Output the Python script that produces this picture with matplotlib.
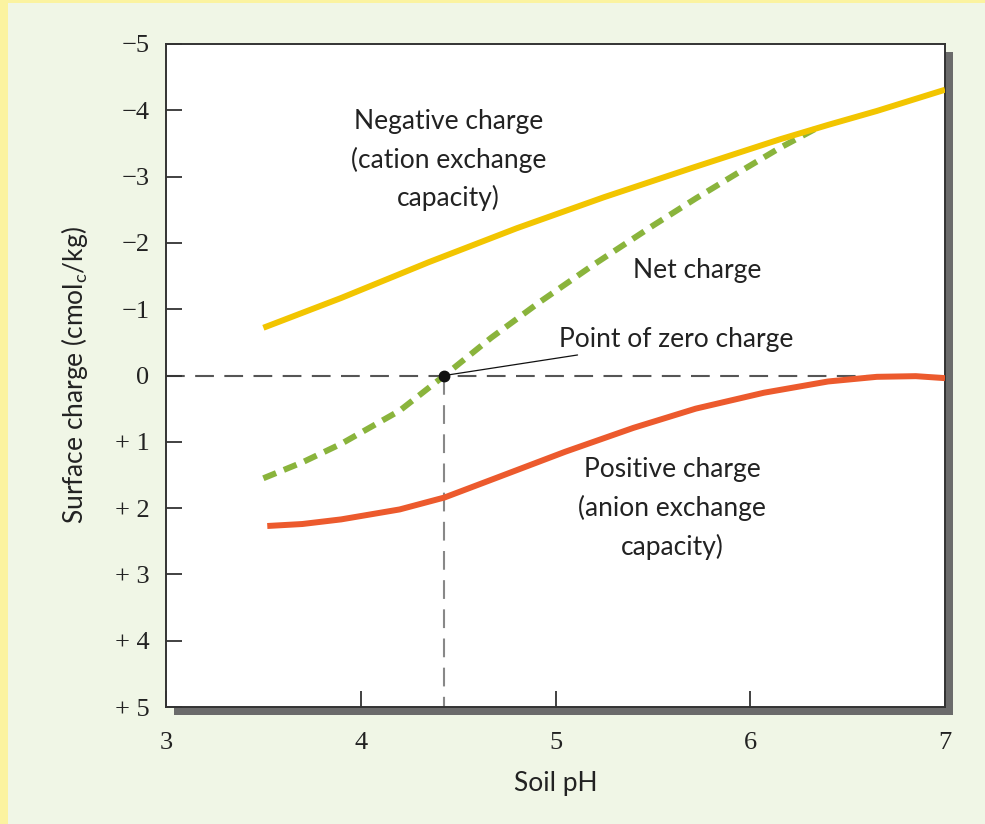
import numpy as np
import matplotlib
matplotlib.use("Agg")
from matplotlib import pyplot as plt
from matplotlib.patches import Rectangle

# Curves (soil pH vs surface charge, cmol_c/kg)
ph_neg = [3.5, 3.9, 4.35, 4.8, 5.25, 5.7, 6.15, 6.4, 6.65, 7.0]
neg_charge = [-0.72, -1.17, -1.71, -2.22, -2.69, -3.13, -3.56, -3.78, -3.99, -4.31]

ph_net = [3.5, 3.7, 3.9, 4.2, 4.43, 4.67, 4.92, 5.2, 5.5, 5.72, 5.95, 6.15, 6.36]
net_charge = [1.55, 1.31, 1.03, 0.53, 0.0, -0.57, -1.11, -1.68, -2.26, -2.67, -3.08, -3.43, -3.76]

ph_pos = [3.52, 3.7, 3.9, 4.2, 4.43, 4.7, 5.05, 5.4, 5.72, 6.07, 6.4, 6.65, 6.85, 7.0]
pos_charge = [2.27, 2.24, 2.17, 2.02, 1.84, 1.54, 1.15, 0.79, 0.5, 0.26, 0.09, 0.02, 0.01, 0.04]

pzc_ph = 4.43
yticks = [-5, -4, -3, -2, -1, 0, 1, 2, 3, 4, 5]
ytick_labels = ["\u22125", "\u22124", "\u22123", "\u22122", "\u22121", "0",
                "+ 1", "+ 2", "+ 3", "+ 4", "+ 5"]
xticks = [3, 4, 5, 6, 7]

plt.rcParams['font.family'] = ['Lato', 'DejaVu Sans']
plt.rcParams['mathtext.fontset'] = 'custom'
plt.rcParams['mathtext.rm'] = 'Lato'

W, H = 985, 824
fig = plt.figure(figsize=(W / 100, H / 100), dpi=100, facecolor='#fbf3a0')
# pale green panel inside the yellow frame
fig.patches.append(Rectangle((8 / W, 0), 1, 1 - 3 / H, transform=fig.transFigure,
                             facecolor='#f0f6e6', edgecolor='none', zorder=0))

left, right, top, bottom = 166, 945, 44, 707
pos = [left / W, 1 - bottom / H, (right - left) / W, (bottom - top) / H]
# drop shadow
fig.patches.append(Rectangle((pos[0] + 8 / W, pos[1] - 8 / H), pos[2], pos[3],
                             transform=fig.transFigure, facecolor='#6b6b6b',
                             edgecolor='none', zorder=1))
ax = fig.add_axes(pos)
ax.set_zorder(2)
ax.set_facecolor('white')

# reference lines
ax.axhline(0, color='#555555', lw=1.5, linestyle=(0, (9, 5)), zorder=1)
ax.plot([pzc_ph, pzc_ph], [0, 5], color='#888888', lw=1.5, linestyle=(0, (9, 5)), zorder=1)

ax.plot(ph_neg, neg_charge, color='#f2c500', lw=4.3, solid_capstyle='butt',
        solid_joinstyle='round', zorder=3)
ax.plot(ph_pos, pos_charge, color='#ec5a2d', lw=4.3, solid_capstyle='butt',
        solid_joinstyle='round', zorder=3)
ax.plot(ph_net, net_charge, color='#8ab43c', lw=4.3, linestyle=(0, (2.3, 1.4)),
        dash_joinstyle='round', zorder=2)
ax.plot([pzc_ph], [0], 'o', color='#111111', ms=7.5, zorder=4)

tkw = dict(fontsize=19, color='#222222', ha='center', va='center', linespacing=1.6)
ax.text(4.45, -3.25, "Negative charge\n(cation exchange\ncapacity)", **tkw)
ax.text(5.73, -1.59, "Net charge", **tkw)
ax.text(5.60, 2.01, "Positive charge\n(anion exchange\ncapacity)", **tkw)
ax.annotate("Point of zero charge", xy=(pzc_ph, 0), xytext=(5.02, -0.54),
            fontsize=19, color='#222222', ha='left', va='center',
            arrowprops=dict(arrowstyle='-', color='#111111', lw=0.9,
                            shrinkA=0, shrinkB=0))

ax.set_xlim(3, 7)
ax.set_ylim(5, -5)
ax.set_xticks(xticks)
ax.set_xticklabels([str(t) for t in xticks], family='Liberation Serif', fontsize=19)
ax.set_yticks(yticks)
ax.set_yticklabels(ytick_labels, family='Liberation Serif', fontsize=19)
ax.tick_params(direction='in', length=11.5, width=1.3, color='#333333', labelcolor='#222222')
ax.tick_params(axis='y', pad=12)
ax.tick_params(axis='x', pad=18)
for s in ax.spines.values():
    s.set_color('#333333')
    s.set_linewidth(1.4)

ax.set_xlabel("Soil pH", fontsize=19, color='#222222', labelpad=12)
ax.set_ylabel(r"Surface charge (cmol$_\mathrm{c}$/kg)", fontsize=19, color='#222222',
              labelpad=18)

fig.savefig("out.png", dpi=100, facecolor=fig.get_facecolor())
